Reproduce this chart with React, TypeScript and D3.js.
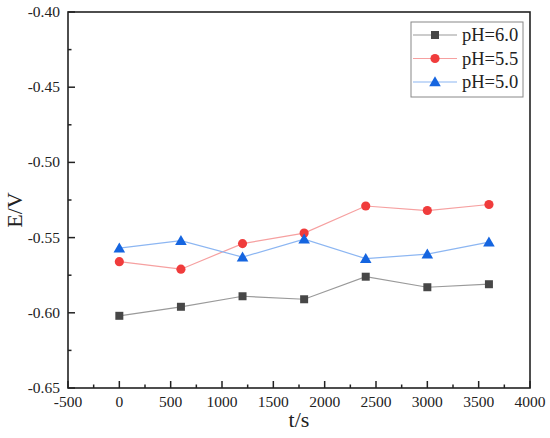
import React, { useEffect, useRef } from "react";
import * as d3 from "d3";

// ── Data ─────────────────────────────────────────────────────────────
const times = [0, 600, 1200, 1800, 2400, 3000, 3600];
const ph60 = [-0.602, -0.596, -0.589, -0.591, -0.576, -0.583, -0.581];
const ph55 = [-0.566, -0.571, -0.554, -0.547, -0.529, -0.532, -0.528];
const ph50 = [-0.557, -0.552, -0.563, -0.551, -0.564, -0.561, -0.553];
const seriesNames = ["pH=6.0", "pH=5.5", "pH=5.0"];
const xTicks = [-500, 0, 500, 1000, 1500, 2000, 2500, 3000, 3500, 4000];
const yTicks = [-0.65, -0.6, -0.55, -0.5, -0.45, -0.4];

const W = 550;
const H = 438;
const M = { top: 12, right: 20, bottom: 50, left: 68 };
const FONT = "'Liberation Serif', 'Times New Roman', serif";

const styles = [
  { marker: "#474747", line: "#9a9a9a", shape: d3.symbolSquare, size: 64 },
  { marker: "#f03c3c", line: "#f6a0a0", shape: d3.symbolCircle, size: 66 },
  { marker: "#1565e0", line: "#8cb6f2", shape: d3.symbolTriangle, size: 58 },
];

const hyphen = (s: string) => s.replace("\u2212", "-");

export default function App() {
  const svgRef = useRef<SVGSVGElement | null>(null);

  useEffect(() => {
    if (!svgRef.current) return;
    const root = d3.select(svgRef.current);
    root.selectAll("*").remove();

    const iW = W - M.left - M.right;
    const iH = H - M.top - M.bottom;
    const x = d3.scaleLinear().domain([-500, 4000]).range([0, iW]);
    const y = d3.scaleLinear().domain([-0.65, -0.4]).range([iH, 0]);

    root.append("rect").attr("width", W).attr("height", H).attr("fill", "#fff");
    const g = root.append("g").attr("transform", `translate(${M.left},${M.top})`);

    // ── Series ─────────────────────────────────────────────────────
    const allSeries = [ph60, ph55, ph50];
    allSeries.forEach((vals, i) => {
      const st = styles[i];
      const pts = times.map((t, j) => [t, vals[j]] as [number, number]);
      g.append("path")
        .datum(pts)
        .attr("fill", "none")
        .attr("stroke", st.line)
        .attr("stroke-width", 1.2)
        .attr("d", d3.line<[number, number]>().x((d) => x(d[0])).y((d) => y(d[1])));
      g.selectAll(`.m${i}`)
        .data(pts)
        .enter()
        .append("path")
        .attr("transform", (d) => `translate(${x(d[0])},${y(d[1]) + (i === 2 ? 1 : 0)})`)
        .attr("d", d3.symbol().type(st.shape).size(st.size)())
        .attr("fill", st.marker);
    });

    // ── Axes ───────────────────────────────────────────────────────
    const minorX = d3.range(-250, 4000, 500);
    const minorY = d3.range(-0.625, -0.4, 0.05);

    const xAxis = g.append("g").attr("transform", `translate(0,${iH})`);
    xAxis.selectAll(".maj").data(xTicks).enter().append("line")
      .attr("x1", (d) => x(d)).attr("x2", (d) => x(d)).attr("y1", 0).attr("y2", -7)
      .attr("stroke", "#222").attr("stroke-width", 1.5);
    xAxis.selectAll(".min").data(minorX).enter().append("line")
      .attr("x1", (d) => x(d)).attr("x2", (d) => x(d)).attr("y1", 0).attr("y2", -3.5)
      .attr("stroke", "#222").attr("stroke-width", 1.5);
    xAxis.selectAll(".lbl").data(xTicks).enter().append("text")
      .attr("x", (d) => x(d)).attr("y", 19)
      .attr("text-anchor", "middle")
      .attr("font-family", FONT).attr("font-size", 15.5).attr("fill", "#222")
      .text((d) => hyphen(d3.format("d")(d)));

    const yAxis = g.append("g");
    yAxis.selectAll(".maj").data(yTicks).enter().append("line")
      .attr("x1", 0).attr("x2", 7).attr("y1", (d) => y(d)).attr("y2", (d) => y(d))
      .attr("stroke", "#222").attr("stroke-width", 1.5);
    yAxis.selectAll(".min").data(minorY).enter().append("line")
      .attr("x1", 0).attr("x2", 3.5).attr("y1", (d) => y(d)).attr("y2", (d) => y(d))
      .attr("stroke", "#222").attr("stroke-width", 1.5);
    yAxis.selectAll(".lbl").data(yTicks).enter().append("text")
      .attr("x", -8).attr("y", (d) => y(d) + 5)
      .attr("text-anchor", "end")
      .attr("font-family", FONT).attr("font-size", 15.5).attr("fill", "#222")
      .text((d) => hyphen(d3.format(".2f")(d)));

    // Frame
    g.append("rect").attr("width", iW).attr("height", iH)
      .attr("fill", "none").attr("stroke", "#222").attr("stroke-width", 1.6);

    // Titles
    root.append("text")
      .attr("x", M.left + iW / 2).attr("y", 427)
      .attr("text-anchor", "middle")
      .attr("font-family", FONT).attr("font-size", 22).attr("fill", "#222")
      .text("t/s");
    root.append("text")
      .attr("transform", `translate(22,${M.top + iH / 2 + 10}) rotate(-90)`)
      .attr("text-anchor", "middle")
      .attr("font-family", FONT).attr("font-size", 22).attr("fill", "#222")
      .text("E/V");

    // ── Legend ─────────────────────────────────────────────────────
    const lg = root.append("g").attr("transform", "translate(411,22)");
    lg.append("rect").attr("width", 112).attr("height", 75)
      .attr("fill", "#fff").attr("stroke", "#888").attr("stroke-width", 1);
    seriesNames.forEach((name, i) => {
      const st = styles[i];
      const ry = 13 + i * 23.5;
      lg.append("line").attr("x1", 2).attr("x2", 46).attr("y1", ry).attr("y2", ry)
        .attr("stroke", st.line).attr("stroke-width", 1.2);
      lg.append("path")
        .attr("transform", `translate(24,${ry + (i === 2 ? 1 : 0)})`)
        .attr("d", d3.symbol().type(st.shape).size(st.size)())
        .attr("fill", st.marker);
      lg.append("text").attr("x", 51).attr("y", ry + 6)
        .attr("font-family", FONT).attr("font-size", 18.5).attr("fill", "#222")
        .text(name);
    });
  }, []);

  return (
    <div style={{ position: "absolute", left: 0, top: 0, width: W, height: H }}>
      <svg ref={svgRef} width={W} height={H} />
    </div>
  );
}
